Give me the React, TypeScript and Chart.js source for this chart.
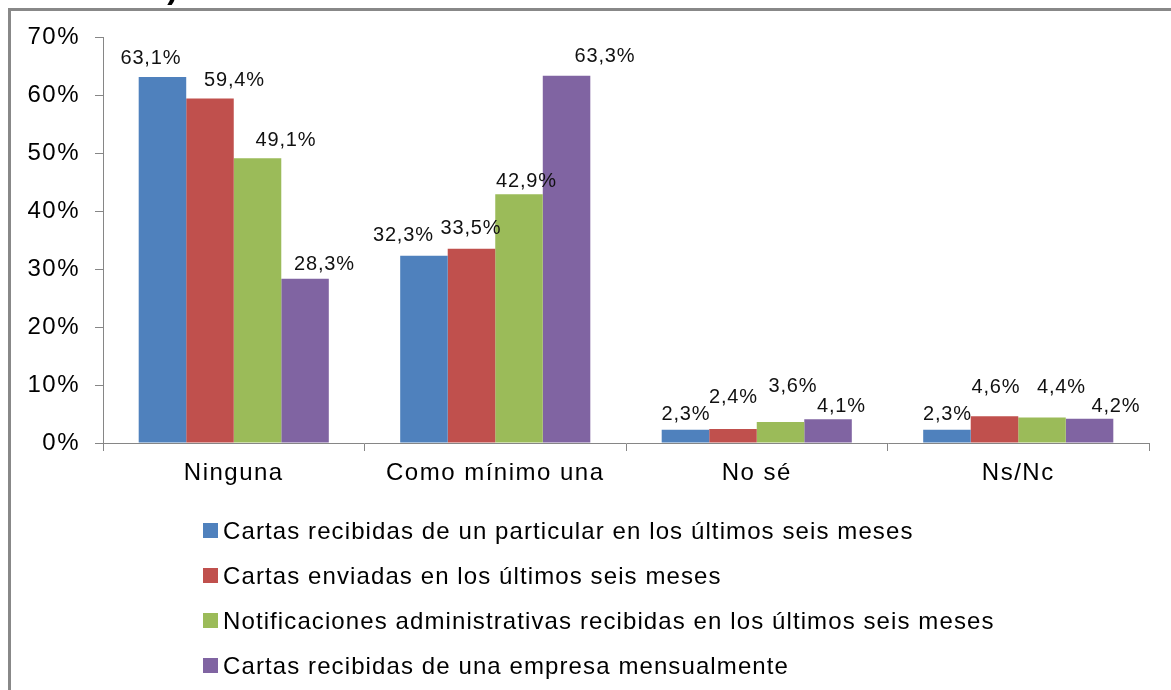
import React, { useEffect, useRef } from "react";
import { Chart, registerables } from "chart.js";

Chart.register(...registerables);

// ---- data ----
const categories = ["Ninguna", "Como mínimo una", "No sé", "Ns/Nc"];
const seriesNames = [
  "Cartas recibidas de un particular en los últimos seis meses",
  "Cartas enviadas en los últimos seis meses",
  "Notificaciones administrativas recibidas en los últimos seis meses",
  "Cartas recibidas de una empresa mensualmente",
];
const cartasRecibidasParticular = [63.1, 32.3, 2.3, 2.3];
const cartasEnviadas = [59.4, 33.5, 2.4, 4.6];
const notificacionesAdministrativas = [49.1, 42.9, 3.6, 4.4];
const cartasRecibidasEmpresa = [28.3, 63.3, 4.1, 4.2];
const yTickValues = [0, 10, 20, 30, 40, 50, 60, 70];
const titleText = "(% sobre el total de entrevistados)";

// ---- styles ----
const seriesColors = ["#4F81BD", "#C0504D", "#9BBB59", "#8064A2"];
// label nudges [dx, dy] relative to bar centre/top, per series then per category
const labelNudges = [
  [[-12, -20], [-21, -22], [0, -17], [0, -17]],
  [[24, -20], [-1, -22], [0, -33], [1, -31]],
  [[28, -19], [7, -14], [12, -37], [19, -32]],
  [[19, -16], [38, -21], [13, -14], [26, -14]],
];
const FONT = "'Liberation Sans', Arial, sans-serif";
const AXIS_COLOR = "#868686";

const fmt = (v: number) => v.toFixed(1).replace(".", ",") + "%";

const overlayPlugin = {
  id: "overlay",
  beforeDraw(chart: any) {
    chart.ctx.letterSpacing = "1.5px";
  },
  afterDatasetsDraw(chart: any) {
    const ctx = chart.ctx;
    ctx.save();
    ctx.letterSpacing = "0.8px";
    ctx.font = `20px ${FONT}`;
    ctx.fillStyle = "#111";
    ctx.textAlign = "center";
    ctx.textBaseline = "alphabetic";
    chart.data.datasets.forEach((ds: any, di: number) => {
      const meta = chart.getDatasetMeta(di);
      meta.data.forEach((bar: any, i: number) => {
        const [dx, dy] = labelNudges[di][i];
        ctx.fillText(fmt(ds.data[i]), bar.x + dx + 0.4, bar.y + dy + 7.2);
      });
    });
    ctx.restore();
  },
  afterDraw(chart: any) {
    const ctx = chart.ctx;
    const area = chart.chartArea;
    const x0 = area.left + 100;
    const y0 = area.bottom + 87;
    const rowH = 45;
    ctx.save();
    ctx.letterSpacing = "1.1px";
    ctx.font = `24px ${FONT}`;
    ctx.textAlign = "left";
    ctx.textBaseline = "alphabetic";
    chart.data.datasets.forEach((ds: any, di: number) => {
      const cy = y0 + di * rowH;
      ctx.fillStyle = ds.backgroundColor;
      ctx.fillRect(x0, cy - 7, 15, 15);
      ctx.fillStyle = "#000";
      ctx.fillText(ds.label, x0 + 20, cy + 8.6);
    });
    ctx.restore();
  },
};

export default function App() {
  const canvasRef = useRef<HTMLCanvasElement | null>(null);

  useEffect(() => {
    if (!canvasRef.current) return;
    const seriesValues = [
      cartasRecibidasParticular,
      cartasEnviadas,
      notificacionesAdministrativas,
      cartasRecibidasEmpresa,
    ];
    const chart = new Chart(canvasRef.current, {
      type: "bar",
      data: {
        labels: categories,
        datasets: seriesValues.map((vals, i) => ({
          label: seriesNames[i],
          data: vals,
          backgroundColor: seriesColors[i],
          borderWidth: 0,
          barPercentage: 1,
          categoryPercentage: 0.727,
        })),
      },
      options: {
        responsive: false,
        animation: false,
        events: [],
        layout: { padding: { left: 0, right: 22, top: 37, bottom: 187 } },
        plugins: {
          legend: { display: false },
          tooltip: { enabled: false },
        },
        scales: {
          x: {
            offset: true,
            grid: {
              offset: true,
              drawOnChartArea: false,
              tickLength: 8,
              color: AXIS_COLOR,
            },
            border: { color: AXIS_COLOR, width: 1 },
            ticks: {
              font: { family: FONT, size: 24 },
              color: "#000",
              padding: 8,
              maxRotation: 0,
            },
            afterFit: (s: any) => {
              s.height = 60;
            },
          },
          y: {
            min: 0,
            max: 70,
            afterBuildTicks: (s: any) => {
              s.ticks = yTickValues.map((v) => ({ value: v }));
            },
            grid: {
              drawOnChartArea: false,
              tickLength: 8,
              color: AXIS_COLOR,
            },
            border: { color: AXIS_COLOR, width: 1 },
            ticks: {
              font: { family: FONT, size: 24 },
              color: "#000",
              padding: 15,
              callback: (v: any) => `${v}%`,
            },
            afterFit: (s: any) => {
              s.width = 103;
            },
          },
        },
      },
      plugins: [overlayPlugin],
    });
    return () => chart.destroy();
  }, []);

  return (
    <div
      style={{
        position: "fixed",
        left: 0,
        top: 0,
        width: 1171,
        height: 690,
        overflow: "hidden",
        background: "#fff",
      }}
    >
      <canvas
        ref={canvasRef}
        width={1171}
        height={690}
        style={{ position: "absolute", left: 0, top: 0, width: 1171, height: 690 }}
      />
      <div
        style={{
          position: "absolute",
          left: 8,
          top: 8,
          width: 1300,
          height: 900,
          border: "3px solid #888",
          pointerEvents: "none",
        }}
      />
      <div
        style={{
          position: "absolute",
          left: 40,
          top: -29,
          width: 138,
          height: 48,
          overflow: "hidden",
          display: "flex",
          justifyContent: "flex-end",
        }}
      >
        <div
          style={{
            fontFamily: FONT,
            fontWeight: "bold",
            fontSize: 32,
            lineHeight: "32px",
            whiteSpace: "nowrap",
            color: "#000",
            flexShrink: 0,
          }}
        >
          {titleText}
        </div>
      </div>
    </div>
  );
}
